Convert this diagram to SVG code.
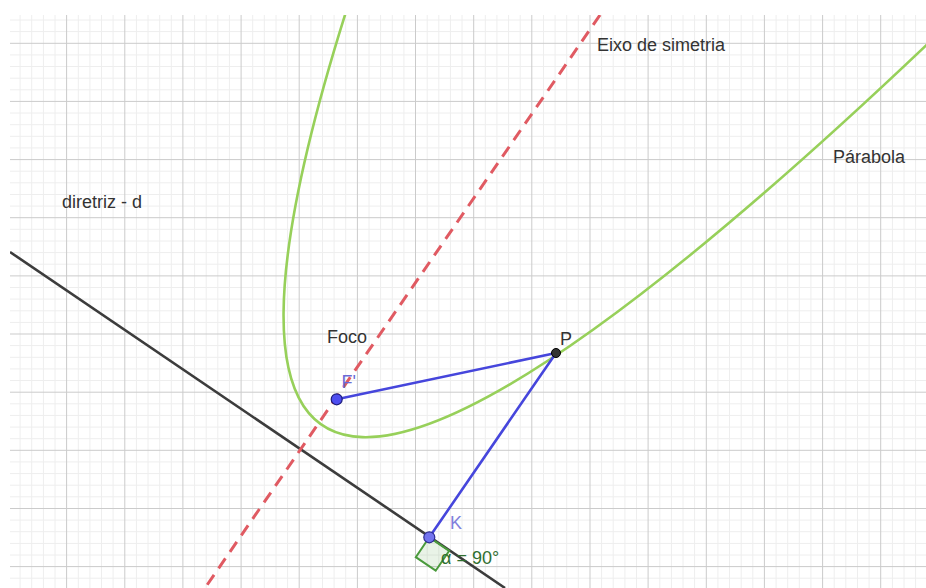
<svg xmlns="http://www.w3.org/2000/svg" width="926" height="588" viewBox="0 0 926 588">
<style>
.minor{stroke:#eeeeee;stroke-width:1;fill:none}
.major{stroke:#cbcbcb;stroke-width:1;fill:none}
.txt{font-family:"Liberation Sans",Arial,sans-serif;font-size:18px;fill:#333333}
.lbl{font-family:"Liberation Sans",Arial,sans-serif;font-size:18px}
.seg{stroke:#4646dc;stroke-width:2.6;fill:none;stroke-linecap:round}
</style>
<defs>
<clipPath id="area"><rect x="10" y="15" width="916" height="573"/></clipPath>
</defs>
<rect width="926" height="588" fill="#ffffff"/>
<g id="grid">
<path class="minor" d="M20.1 15V588M31.7 15V588M43.4 15V588M55 15V588M78.3 15V588M89.9 15V588M101.5 15V588M113.1 15V588M136.4 15V588M148 15V588M159.7 15V588M171.3 15V588M194.6 15V588M206.2 15V588M217.8 15V588M229.4 15V588M252.7 15V588M264.3 15V588M276 15V588M287.6 15V588M310.9 15V588M322.5 15V588M334.1 15V588M345.7 15V588M369 15V588M380.6 15V588M392.3 15V588M403.9 15V588M427.2 15V588M438.8 15V588M450.4 15V588M462 15V588M485.3 15V588M496.9 15V588M508.6 15V588M520.2 15V588M543.5 15V588M555.1 15V588M566.7 15V588M578.3 15V588M601.6 15V588M613.2 15V588M624.9 15V588M636.5 15V588M659.8 15V588M671.4 15V588M683 15V588M694.6 15V588M717.9 15V588M729.5 15V588M741.2 15V588M752.8 15V588M776.1 15V588M787.7 15V588M799.3 15V588M810.9 15V588M834.2 15V588M845.8 15V588M857.5 15V588M869.1 15V588M892.4 15V588M904 15V588M915.6 15V588M10 20H926M10 31.6H926M10 54.9H926M10 66.5H926M10 78.2H926M10 89.8H926M10 113H926M10 124.7H926M10 136.3H926M10 147.9H926M10 171.2H926M10 182.8H926M10 194.5H926M10 206.1H926M10 229.3H926M10 241H926M10 252.6H926M10 264.2H926M10 287.5H926M10 299.1H926M10 310.8H926M10 322.4H926M10 345.6H926M10 357.3H926M10 368.9H926M10 380.5H926M10 403.8H926M10 415.4H926M10 427.1H926M10 438.7H926M10 461.9H926M10 473.6H926M10 485.2H926M10 496.8H926M10 520.1H926M10 531.7H926M10 543.4H926M10 555H926M10 578.2H926"/>
<path class="major" d="M66.6 15V588M124.8 15V588M182.9 15V588M241.1 15V588M299.2 15V588M357.4 15V588M415.5 15V588M473.7 15V588M531.8 15V588M590 15V588M648.1 15V588M706.3 15V588M764.4 15V588M822.6 15V588M880.7 15V588M10 43.3H926M10 101.4H926M10 159.6H926M10 217.7H926M10 275.9H926M10 334H926M10 392.2H926M10 450.3H926M10 508.5H926M10 566.6H926"/>
</g>
<g id="connectors" clip-path="url(#area)">
<path id="diretriz" d="M10 252L505 588" stroke="#3c3c3c" stroke-width="2.6" fill="none"/>
<path id="parabola" d="M366.4 -50.5Q39 915 1005.3 -31" stroke="#97d05a" stroke-width="2.6" fill="none"/>
<path id="eixo" d="M600 15L205 588" stroke="#e05a62" stroke-width="3" stroke-dasharray="12 8" fill="none"/>
<path id="FP" class="seg" d="M336.7 399.3L556 353"/>
<path id="PK" class="seg" d="M556 353L429.3 537.3"/>
</g>
<g id="angle">
<polygon points="429.3,537.3 415.8,557.2 435.7,570.7 449.2,550.8" fill="#4a9a3c" fill-opacity="0.12" stroke="#4a9a3c" stroke-width="2" stroke-linejoin="miter"/>
<text class="lbl" x="441" y="564" fill="#2f6f2f">α = 90°</text>
</g>
<g id="F">
<circle cx="336.7" cy="399.3" r="5.5" fill="#4d4df0" stroke="#1c1c7a" stroke-width="1.2"/>
<text class="lbl" x="341.5" y="388" fill="#6a6ad6">F'</text>
</g>
<g id="P">
<circle cx="556" cy="353" r="4.5" fill="#333333" stroke="#000000" stroke-width="1"/>
<text class="lbl" x="560" y="345" fill="#333333">P</text>
</g>
<g id="K">
<circle cx="429.3" cy="537.3" r="5.5" fill="#7373ee" stroke="#2c2c90" stroke-width="1.2"/>
<text class="lbl" x="450" y="529" fill="#8080dc">K</text>
</g>
<g id="labels">
<text class="txt" x="597" y="51">Eixo de simetria</text>
<text class="txt" x="833" y="163">Párabola</text>
<text class="txt" x="62" y="208">diretriz - d</text>
<text class="txt" x="327" y="343">Foco</text>
</g>
</svg>
